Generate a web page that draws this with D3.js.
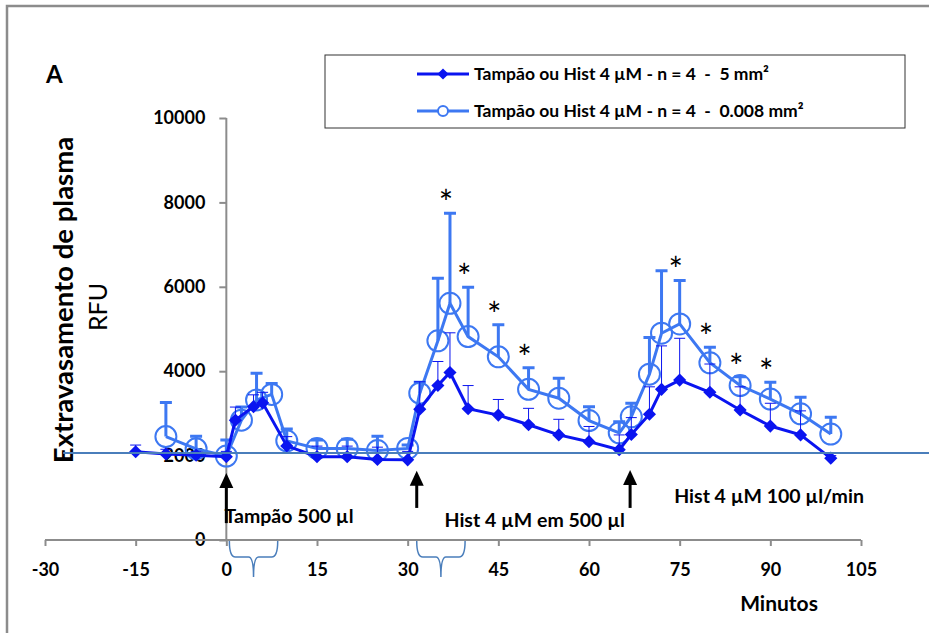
<!DOCTYPE html>
<html>
<head>
<meta charset="utf-8">
<script src="https://cdn.jsdelivr.net/npm/d3@7"></script>
<style>
  body { margin: 0; background: #fff; }
  text { font-family: Lato, "Open Sans", sans-serif; }
</style>
</head>
<body>
<script>
// series 1: 5 mm2 (filled diamonds)
let s1Time = [-15, -10, -5, 0, 1.5, 4.5, 6, 10, 15, 20, 25, 30, 32, 35, 37, 40, 45, 50, 55, 60, 65, 67, 70, 72, 75, 80, 85, 90, 95, 100];
let s1Val  = [2090, 2040, 2010, 1975, 2840, 3160, 3250, 2230, 1975, 1975, 1910, 1900, 3100, 3660, 3970, 3110, 2960, 2730, 2490, 2330, 2140, 2500, 2980, 3570, 3790, 3500, 3080, 2700, 2490, 1940];
let s1Err  = [160, 110, 90, 125, 310, 280, 250, 220, 250, 250, 290, 200, 650, 570, 940, 550, 370, 390, 370, 360, 350, 400, 650, 1030, 990, 670, 550, 540, 570, 60];

// series 2: 0.008 mm2 (open circles)
let s2Time = [-10, -5, 0, 2.5, 5, 7.5, 10, 15, 20, 25, 30, 32, 35, 37, 40, 45, 50, 55, 60, 65, 67, 70, 72, 75, 80, 85, 90, 95, 100];
let s2Val  = [2450, 2160, 1990, 2840, 3320, 3450, 2350, 2170, 2170, 2120, 2170, 3480, 4720, 5610, 4820, 4340, 3570, 3360, 2830, 2540, 2920, 3930, 4900, 5120, 4200, 3660, 3340, 2990, 2510];
let s2Err  = [810, 300, 380, 310, 630, 260, 280, 200, 220, 340, 80, 260, 1480, 2130, 1170, 760, 510, 470, 330, 260, 320, 870, 1480, 1030, 370, 210, 400, 390, 400];

let starTimes = [37, 40, 45, 50, 75, 80, 85, 90];
let xTicks = [-30, -15, 0, 15, 30, 45, 60, 75, 90, 105];
let yTicks = [0, 2000, 4000, 6000, 8000, 10000];
let baselineVal = 2060;
let arrows = [{t: 0, from: 400, to: 1590}, {t: 31.5, from: 760, to: 1640}, {t: 66.8, from: 760, to: 1660}];
let notes = [
  {t: -0.3, v: 400, text: 'Tampão 500 µl'},
  {t: 36.1, v: 310, text: 'Hist 4 µM em 500 µl'},
  {t: 74.1, v: 880, text: 'Hist 4 µM 100 µl/min'}
];
let braces = [[0.5, 8.5], [31.5, 39.5]];
let legendLabels = ['Tampão ou Hist 4 µM - n = 4  -  5 mm²', 'Tampão ou Hist 4 µM - n = 4  -  0.008 mm²'];

let c1 = '#0a14f0', c2 = '#3d78f2', axisCol = '#8c8c8c', lineCol = '#4a7ebb';

let svg = d3.select('body').append('svg').attr('width', 929).attr('height', 633);

let x = d3.scaleLinear().domain([-30, 105]).range([45, 861]);
let y = d3.scaleLinear().domain([0, 10000]).range([540, 118]);

// outer frame (left + top only visible)
svg.append('path').attr('d', 'M7,640V6H935').attr('fill', 'none').attr('stroke', axisCol).attr('stroke-width', 2.5);

svg.append('text').attr('x', 46).attr('y', 83).text('A')
   .attr('font-size', '24px').attr('font-weight', 'bold');

// axes
let yAxis = svg.append('g').attr('transform', 'translate(' + x(0) + ',0)')
   .call(d3.axisLeft(y).tickValues(yTicks).tickSize(7).tickPadding(14).tickFormat(String));
let xAxis = svg.append('g').attr('transform', 'translate(0,' + y(0) + ')')
   .call(d3.axisBottom(x).tickValues(xTicks).tickSize(6).tickPadding(17).tickFormat(String));
[xAxis, yAxis].forEach(function(g) {
  g.select('.domain').attr('stroke', axisCol).attr('stroke-width', 2);
  g.selectAll('.tick line').attr('stroke', axisCol).attr('stroke-width', 2);
  g.selectAll('.tick text').attr('font-size', '18px').attr('font-weight', 'bold').attr('fill', '#000')
   .attr('font-family', 'Lato, sans-serif');
});
xAxis.select('.domain').attr('d', 'M' + x(-30) + ',0H' + x(105));
yAxis.select('.domain').attr('d', 'M0,' + y(10000) + 'V' + y(0));

// axis titles
svg.append('text').attr('transform', 'translate(73,300) rotate(-90)').attr('text-anchor', 'middle')
   .attr('font-size', '27.5px').attr('font-weight', 'bold').text('Extravasamento de plasma');
svg.append('text').attr('transform', 'translate(107,307) rotate(-90)').attr('text-anchor', 'middle')
   .attr('font-size', '25px').text('RFU');
svg.append('text').attr('x', 779).attr('y', 611).attr('text-anchor', 'middle')
   .attr('font-size', '21px').attr('font-weight', 'bold').text('Minutos');

// braces below the x axis
braces.forEach(function(b) {
  let x0 = x(b[0]), x1 = x(b[1]), xm = (x0 + x1) / 2, y0 = y(0) + 1, y1 = y(0) + 17, y2 = y(0) + 37;
  let p = 'M' + x0 + ',' + y0 + 'Q' + x0 + ',' + y1 + ' ' + (x0 + 6) + ',' + y1 +
          'H' + (xm - 5) + 'Q' + xm + ',' + y1 + ' ' + xm + ',' + y2 +
          'Q' + xm + ',' + y1 + ' ' + (xm + 5) + ',' + y1 +
          'H' + (x1 - 6) + 'Q' + x1 + ',' + y1 + ' ' + x1 + ',' + y0;
  svg.append('path').attr('d', p).attr('fill', 'none').attr('stroke', lineCol).attr('stroke-width', 1.5);
});

// series 2
let s2 = s2Time.map(function(t, i) { return {t: t, v: s2Val[i], e: s2Err[i]}; });
let s1 = s1Time.map(function(t, i) { return {t: t, v: s1Val[i], e: s1Err[i]}; });

let g2 = svg.append('g');
g2.selectAll('.err').data(s2).enter().append('path')
  .attr('d', function(d) { let xx = x(d.t), yt = y(d.v + d.e); return 'M' + xx + ',' + y(d.v) + 'V' + yt + 'M' + (xx - 6) + ',' + yt + 'H' + (xx + 6); })
  .attr('stroke', c2).attr('stroke-width', 3).attr('fill', 'none');
g2.append('path').datum(s2)
  .attr('d', d3.line().x(function(d) { return x(d.t); }).y(function(d) { return y(d.v); }))
  .attr('fill', 'none').attr('stroke', c2).attr('stroke-width', 3);
g2.selectAll('circle').data(s2).enter().append('circle')
  .attr('cx', function(d) { return x(d.t); }).attr('cy', function(d) { return y(d.v); }).attr('r', 10.5)
  .attr('fill', 'none').attr('stroke', c2).attr('stroke-width', 2);

// series 1
let g1 = svg.append('g');
g1.selectAll('.err').data(s1).enter().append('path')
  .attr('d', function(d) { let xx = x(d.t), yt = y(d.v + d.e); return 'M' + xx + ',' + y(d.v) + 'V' + yt + 'M' + (xx - 5.5) + ',' + yt + 'H' + (xx + 5.5); })
  .attr('stroke', c1).attr('stroke-width', 1).attr('fill', 'none');
g1.append('path').datum(s1)
  .attr('d', d3.line().x(function(d) { return x(d.t); }).y(function(d) { return y(d.v); }))
  .attr('fill', 'none').attr('stroke', c1).attr('stroke-width', 3);
g1.selectAll('.pt').data(s1).enter().append('path')
  .attr('d', d3.symbol().type(d3.symbolDiamond2).size(110))
  .attr('transform', function(d) { return 'translate(' + x(d.t) + ',' + y(d.v) + ')'; })
  .attr('fill', c1);

// horizontal reference line
svg.append('line').attr('x1', x(-27)).attr('x2', 929).attr('y1', y(baselineVal)).attr('y2', y(baselineVal))
   .attr('stroke', lineCol).attr('stroke-width', 2);

// significance stars above the 0.008 mm2 error caps
let starData = s2.filter(function(d) { return starTimes.indexOf(d.t) >= 0; });
svg.selectAll('.star').data(starData).enter().append('text')
   .attr('x', function(d) { return x(d.t) - 4; }).attr('y', function(d) { return y(d.v + d.e) + 2; })
   .attr('text-anchor', 'middle').attr('font-size', '34px').text('*');

// arrows
arrows.forEach(function(a) {
  let xx = x(a.t), yb = y(a.from), yt = y(a.to);
  svg.append('line').attr('x1', xx).attr('x2', xx).attr('y1', yb).attr('y2', yt + 10)
     .attr('stroke', '#000').attr('stroke-width', 3);
  svg.append('path').attr('d', 'M' + xx + ',' + yt + 'L' + (xx - 7) + ',' + (yt + 15) + 'L' + (xx + 7) + ',' + (yt + 15) + 'Z')
     .attr('fill', '#000');
});

notes.forEach(function(n) {
  svg.append('text').attr('x', x(n.t)).attr('y', y(n.v)).attr('font-size', '19.5px')
     .attr('font-weight', 'bold').text(n.text);
});

// legend
let lg = svg.append('g');
lg.append('rect').attr('x', 325).attr('y', 55).attr('width', 580).attr('height', 73)
  .attr('fill', '#fff').attr('stroke', '#333').attr('stroke-width', 1);
[0, 1].forEach(function(i) {
  let ly = i === 0 ? 74 : 111, col = i === 0 ? c1 : c2;
  lg.append('line').attr('x1', 417).attr('x2', 469).attr('y1', ly).attr('y2', ly).attr('stroke', col).attr('stroke-width', 3);
  if (i === 0) {
    lg.append('path').attr('d', d3.symbol().type(d3.symbolDiamond2).size(80)).attr('transform', 'translate(443,' + ly + ')').attr('fill', col);
  } else {
    lg.append('circle').attr('cx', 443).attr('cy', ly).attr('r', 5).attr('fill', '#fff').attr('stroke', col).attr('stroke-width', 2);
  }
  lg.append('text').attr('x', 474).attr('y', ly + 6).attr('font-size', '17.5px').attr('font-weight', 'bold')
    .attr('xml:space', 'preserve').style('white-space', 'pre').text(legendLabels[i]);
});
</script>
</body>
</html>
